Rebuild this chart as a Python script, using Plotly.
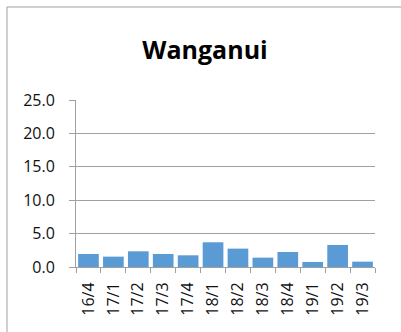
import plotly.graph_objects as go

# Quarterly values for Wanganui
quarters = ["16/4", "17/1", "17/2", "17/3", "17/4", "18/1",
            "18/2", "18/3", "18/4", "19/1", "19/2", "19/3"]
values = [1.95, 1.55, 2.35, 1.95, 1.75, 3.7, 2.75, 1.4, 2.25, 0.75, 3.3, 0.8]

y_ticks = [0, 5, 10, 15, 20, 25]
y_labels = ["0.0", "5.0", "10.0", "15.0", "20.0", "25.0"]

W, H = 401, 332
left, right, top, bottom = 76, 26, 100, 65
plot_w = W - left - right
plot_h = H - top - bottom

fig = go.Figure(
    go.Bar(
        x=quarters,
        y=values,
        marker=dict(color="#5B9BD5", line=dict(width=0)),
    )
)

fig.update_layout(
    width=W,
    height=H,
    margin=dict(l=left, r=right, t=top, b=bottom),
    paper_bgcolor="white",
    plot_bgcolor="white",
    bargap=0.17,
    showlegend=False,
    font=dict(family="Open Sans, Liberation Sans, sans-serif", color="#111111"),
    title=dict(
        text="<b>Wanganui</b>",
        x=205 / W,
        xanchor="center",
        y=1 - 50 / H,
        yanchor="middle",
        font=dict(size=25, color="black"),
    ),
    xaxis=dict(
        type="category",
        tickangle=-90,
        tickfont=dict(size=16),
        showline=True,
        linecolor="#a0a0a0",
        ticks="outside",
        tickson="boundaries",
        ticklen=5,
        tickcolor="#a0a0a0",
        ticklabelstandoff=8,
        showgrid=False,
    ),
    yaxis=dict(
        range=[0, 25],
        tickvals=y_ticks,
        ticktext=y_labels,
        tickfont=dict(size=16),
        showline=True,
        linecolor="#a0a0a0",
        ticks="outside",
        ticklen=6,
        tickcolor="#a0a0a0",
        ticklabelstandoff=11,
        showgrid=True,
        gridcolor="#a0a0a0",
        gridwidth=1,
        zeroline=False,
    ),
    shapes=[
        dict(
            type="rect",
            xref="paper",
            yref="paper",
            x0=(7 - left) / plot_w,
            x1=(W + 20 - left) / plot_w,
            y0=-(H + 20 - top - plot_h) / plot_h,
            y1=(H - 7 - bottom) / plot_h,
            line=dict(color="#a0a0a0", width=1),
            fillcolor="rgba(0,0,0,0)",
            layer="below",
        )
    ],
)

fig.write_html("out.html")
